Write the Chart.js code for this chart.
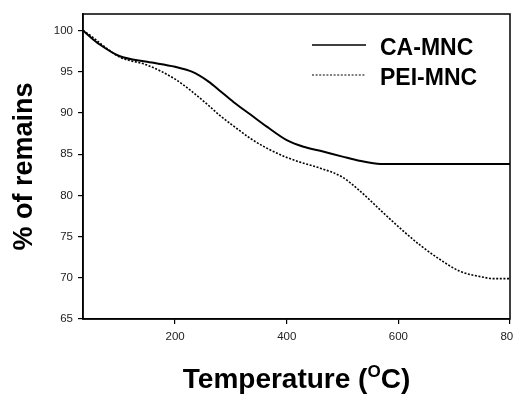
<!DOCTYPE html>
<html>
<head>
<meta charset="utf-8">
<script src="https://cdn.jsdelivr.net/npm/chart.js@4.4.1/dist/chart.umd.min.js"></script>
<style>
  html, body { margin: 0; padding: 0; background: #fff; overflow: hidden; }
  #wrap { width: 533px; height: 394px; position: relative; }
</style>
</head>
<body>
<div id="wrap"><canvas id="tga"></canvas></div>
<script>
// TGA curves: residual mass (%) vs temperature (°C)
const temps = [35, 50, 65, 100, 150, 200, 230, 260, 280, 305, 335, 365, 400, 430, 460, 500, 530, 568, 600, 640, 675, 710, 750, 770, 800];
const caMnc = [100, 99.1, 98.3, 96.9, 96.2, 95.6, 95.0, 93.8, 92.7, 91.3, 89.8, 88.3, 86.7, 85.9, 85.4, 84.7, 84.2, 83.8, 83.8, 83.8, 83.8, 83.8, 83.8, 83.8, 83.8];
const peiMnc = [100, 99.3, 98.5, 96.8, 95.8, 94.1, 92.6, 90.9, 89.7, 88.4, 86.9, 85.7, 84.6, 83.9, 83.3, 82.2, 80.6, 78.2, 76.2, 73.9, 72.2, 70.8, 70.1, 69.9, 69.9];
const xTicks = [200, 400, 600, 800];
const yTicks = [65, 70, 75, 80, 85, 90, 95, 100];

const FONT = "'Liberation Sans', Arial, Helvetica, sans-serif";
const INK = '#000';

const toPoints = (ys) => temps.map((t, i) => ({ x: t, y: ys[i] }));

// frame around the plot, legend at top right, x title with superscript
const decor = {
  id: 'decor',
  afterDraw(chart) {
    const { ctx, chartArea: a } = chart;
    ctx.save();
    ctx.strokeStyle = INK;
    ctx.lineWidth = 1.5;
    ctx.strokeRect(a.left, a.top, a.right - a.left, a.bottom - a.top);

    // legend
    const rows = [45, 75];
    ctx.font = 'bold 23px ' + FONT;
    ctx.textBaseline = 'alphabetic';
    ctx.textAlign = 'left';
    chart.data.datasets.forEach((ds, i) => {
      const y = rows[i];
      ctx.beginPath();
      ctx.strokeStyle = ds.borderColor;
      ctx.lineWidth = ds.borderWidth === 2 ? 1.5 : 1.2;
      ctx.setLineDash(ds.borderDash || []);
      ctx.moveTo(312, y);
      ctx.lineTo(366, y);
      ctx.stroke();
      ctx.setLineDash([]);
      ctx.fillStyle = INK;
      ctx.fillText(ds.label, 380, y + 9.5);
    });

    // x axis title: Temperature (°C) with raised O
    const big = 'bold 28px ' + FONT;
    const small = 'bold 17px ' + FONT;
    const p1 = 'Temperature (', p2 = 'O', p3 = 'C)';
    ctx.font = big;
    const w1 = ctx.measureText(p1).width, w3 = ctx.measureText(p3).width;
    ctx.font = small;
    const w2 = ctx.measureText(p2).width;
    const cx = (a.left + a.right) / 2;
    let x = cx - (w1 + w2 + w3) / 2;
    const base = 388;
    ctx.fillStyle = INK;
    ctx.font = big;
    ctx.fillText(p1, x, base);
    x += w1;
    ctx.font = small;
    ctx.fillText(p2, x, base - 11.5);
    x += w2;
    ctx.font = big;
    ctx.fillText(p3, x, base);
    ctx.restore();
  }
};

new Chart(document.getElementById('tga'), {
  type: 'line',
  data: {
    datasets: [
      {
        label: 'CA-MNC',
        data: toPoints(caMnc),
        borderColor: INK,
        borderWidth: 2,
        pointRadius: 0,
        cubicInterpolationMode: 'monotone'
      },
      {
        label: 'PEI-MNC',
        data: toPoints(peiMnc),
        borderColor: INK,
        borderWidth: 1.6,
        borderDash: [2, 1.6],
        pointRadius: 0,
        cubicInterpolationMode: 'monotone'
      }
    ]
  },
  options: {
    responsive: true,
    maintainAspectRatio: false,
    animation: false,
    layout: { padding: { top: 14, right: 23, bottom: 0, left: 0 } },
    plugins: { legend: { display: false }, tooltip: { enabled: false } },
    scales: {
      x: {
        type: 'linear',
        min: 35,
        max: 800,
        ticks: { stepSize: 200, color: '#222', padding: 6, font: { family: FONT, size: 11.5 } },
        afterBuildTicks: (s) => { s.ticks = xTicks.map(v => ({ value: v })); },
        afterFit: (s) => { s.height = 75; s.paddingLeft = 0; s.paddingRight = 0; },
        grid: { drawOnChartArea: false, tickLength: 5, color: INK, lineWidth: 1.2 },
        border: { color: INK, width: 1.5 }
      },
      y: {
        min: 65,
        max: 102,
        ticks: { stepSize: 5, color: '#222', padding: 5, font: { family: FONT, size: 11.5 } },
        afterBuildTicks: (s) => { s.ticks = yTicks.map(v => ({ value: v })); },
        afterFit: (s) => { s.width = 83; s.paddingTop = 0; s.paddingBottom = 0; },
        grid: { drawOnChartArea: false, tickLength: 5, color: INK, lineWidth: 1.2 },
        border: { color: INK, width: 1.5 },
        title: {
          display: true,
          text: '% of remains',
          color: INK,
          font: { family: FONT, size: 27, weight: 'bold' },
          padding: { top: 8.5, bottom: 0 }
        }
      }
    }
  },
  plugins: [decor]
});
</script>
</body>
</html>
